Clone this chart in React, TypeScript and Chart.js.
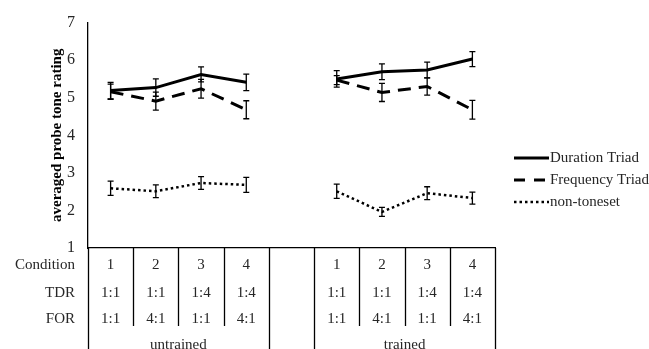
import React, { useEffect, useRef } from "react";
import { Chart, registerables } from "chart.js";

Chart.register(...registerables);

const categories = ["u1", "u2", "u3", "u4", "gap", "t1", "t2", "t3", "t4"];
const conditionRow = ["1", "2", "3", "4", "", "1", "2", "3", "4"];
const tdrRow = ["1:1", "1:1", "1:4", "1:4", "", "1:1", "1:1", "1:4", "1:4"];
const forRow = ["1:1", "4:1", "1:1", "4:1", "", "1:1", "4:1", "1:1", "4:1"];
const rowLabels = ["Condition", "TDR", "FOR"];
const groupLabels = ["untrained", "trained"];
const groupRanges = [[0, 3], [5, 8]];
const yTicks = [1, 2, 3, 4, 5, 6, 7];

const duration = [5.19, 5.27, 5.62, 5.41, null, 5.5, 5.69, 5.74, 6.03];
const durationErr = [0.22, 0.23, 0.2, 0.22, null, 0.22, 0.21, 0.21, 0.2];
const frequency = [5.16, 4.91, 5.24, 4.68, null, 5.47, 5.14, 5.3, 4.68];
const frequencyErr = [0.2, 0.24, 0.25, 0.24, null, 0.12, 0.24, 0.23, 0.25];
const nonToneset = [2.59, 2.51, 2.73, 2.68, null, 2.51, 1.96, 2.46, 2.33];
const nonTonesetErr = [0.19, 0.17, 0.17, 0.2, null, 0.19, 0.12, 0.17, 0.16];

const FONT = "'Liberation Serif', 'Times New Roman', serif";
const TEXT = "#262626";

const errorBarPlugin = {
  id: "errorBars",
  afterDatasetsDraw(chart: any) {
    const ctx = chart.ctx;
    const yScale = chart.scales.y;
    chart.data.datasets.forEach((ds: any, di: number) => {
      const meta = chart.getDatasetMeta(di);
      const errs = ds.errors as (number | null)[];
      if (!errs) return;
      ctx.save();
      ctx.strokeStyle = "#000";
      ctx.lineWidth = 1.3;
      ctx.setLineDash([]);
      ds.data.forEach((v: number | null, i: number) => {
        const e = errs[i];
        if (v == null || e == null) return;
        const x = meta.data[i].x;
        const yt = yScale.getPixelForValue(v + e);
        const yb = yScale.getPixelForValue(v - e);
        ctx.beginPath();
        ctx.moveTo(x, yt);
        ctx.lineTo(x, yb);
        ctx.moveTo(x - 3, yt);
        ctx.lineTo(x + 3, yt);
        ctx.moveTo(x - 3, yb);
        ctx.lineTo(x + 3, yb);
        ctx.stroke();
      });
      ctx.restore();
    });
  },
};

const tablePlugin = {
  id: "table",
  afterDraw(chart: any) {
    const ctx = chart.ctx;
    const xs = chart.scales.x;
    const area = chart.chartArea;
    const n = categories.length;
    const half = (xs.getPixelForValue(1) - xs.getPixelForValue(0)) / 2;
    const centers = categories.map((_, i) => xs.getPixelForValue(i));
    const bounds: number[] = [];
    for (let i = 0; i <= n; i++) {
      bounds.push(i === 0 ? centers[0] - half : centers[i - 1] + half);
    }
    const top = area.bottom;
    const bottom = chart.height;
    const innerBottom = top + 78;
    const fullIdx = new Set<number>();
    groupRanges.forEach(([a, b]) => {
      fullIdx.add(a);
      fullIdx.add(b + 1);
    });
    ctx.save();
    ctx.strokeStyle = "#000";
    ctx.lineWidth = 1.3;
    bounds.forEach((bx, i) => {
      const x = Math.round(bx) + 0.5;
      ctx.beginPath();
      ctx.moveTo(x, top);
      ctx.lineTo(x, fullIdx.has(i) ? bottom : innerBottom);
      ctx.stroke();
    });
    ctx.fillStyle = TEXT;
    ctx.font = `15px ${FONT}`;
    ctx.textBaseline = "middle";
    const rowOffsets = [17, 45, 71];
    const rows = [conditionRow, tdrRow, forRow];
    rows.forEach((row, r) => {
      const y = top + rowOffsets[r];
      ctx.textAlign = "right";
      ctx.fillText(rowLabels[r], 75, y);
      ctx.textAlign = "center";
      row.forEach((t, i) => {
        if (t) ctx.fillText(t, centers[i], y);
      });
    });
    ctx.textAlign = "center";
    groupRanges.forEach(([a, b], g) => {
      const cx = (bounds[a] + bounds[b + 1]) / 2;
      ctx.fillText(groupLabels[g], cx, top + 97);
    });
    ctx.restore();
  },
};

const legendPlugin = {
  id: "customLegend",
  afterDraw(chart: any) {
    const ctx = chart.ctx;
    const x0 = 514;
    const x1 = 549;
    const ys = [158, 180, 202];
    ctx.save();
    chart.data.datasets.forEach((ds: any, i: number) => {
      const y = ys[i];
      ctx.strokeStyle = "#000";
      ctx.lineWidth = ds.borderWidth;
      ctx.setLineDash(ds.legendDash || ds.borderDash || []);
      ctx.beginPath();
      ctx.moveTo(x0, y);
      ctx.lineTo(x1, y);
      ctx.stroke();
      ctx.setLineDash([]);
      ctx.fillStyle = TEXT;
      ctx.font = `15px ${FONT}`;
      ctx.textAlign = "left";
      ctx.textBaseline = "middle";
      ctx.fillText(ds.label, x1 + 1, y);
    });
    ctx.restore();
  },
};

export default function App() {
  const ref = useRef<HTMLCanvasElement | null>(null);
  useEffect(() => {
    if (!ref.current) return;
    const chart = new Chart(ref.current, {
      type: "line",
      data: {
        labels: categories,
        datasets: [
          {
            label: "Duration Triad",
            data: duration,
            errors: durationErr,
            borderColor: "#000",
            borderWidth: 3,
            pointRadius: 0,
            spanGaps: false,
          } as any,
          {
            label: "Frequency Triad",
            data: frequency,
            errors: frequencyErr,
            borderColor: "#000",
            borderWidth: 3,
            borderDash: [13, 8],
            legendDash: [11, 9],
            pointRadius: 0,
            spanGaps: false,
          } as any,
          {
            label: "non-toneset",
            data: nonToneset,
            errors: nonTonesetErr,
            borderColor: "#000",
            borderWidth: 2.5,
            borderDash: [2.5, 3],
            pointRadius: 0,
            spanGaps: false,
          } as any,
        ],
      },
      options: {
        animation: false,
        responsive: true,
        maintainAspectRatio: false,
        layout: { padding: { top: 20, right: 154, left: 0, bottom: 0 } },
        plugins: { legend: { display: false }, tooltip: { enabled: false } },
        scales: {
          x: {
            type: "category",
            offset: true,
            ticks: { display: false },
            grid: { display: false, drawTicks: false },
            border: { display: true, color: "#000", width: 1.3 },
            afterFit: (s: any) => {
              s.height = 101;
            },
          },
          y: {
            min: 1,
            max: 7,
            afterBuildTicks: (s: any) => {
              s.ticks = yTicks.map((v) => ({ value: v }));
            },
            ticks: {
              font: { family: FONT, size: 16 },
              color: TEXT,
              padding: 13,
            },
            grid: { display: false, drawTicks: false },
            border: { display: true, color: "#000", width: 1.3 },
            title: {
              display: true,
              text: "averaged probe tone rating",
              font: { family: FONT, size: 15, weight: "bold" },
              color: "#000",
              padding: { top: 48, bottom: 0 },
            },
            afterFit: (s: any) => {
              s.width = 88;
            },
          },
        },
      } as any,
      plugins: [errorBarPlugin, tablePlugin, legendPlugin],
    });
    return () => chart.destroy();
  }, []);
  return (
    <div style={{ position: "absolute", left: 0, top: 0, width: 649, height: 349, background: "#fff" }}>
      <canvas ref={ref} />
    </div>
  );
}
